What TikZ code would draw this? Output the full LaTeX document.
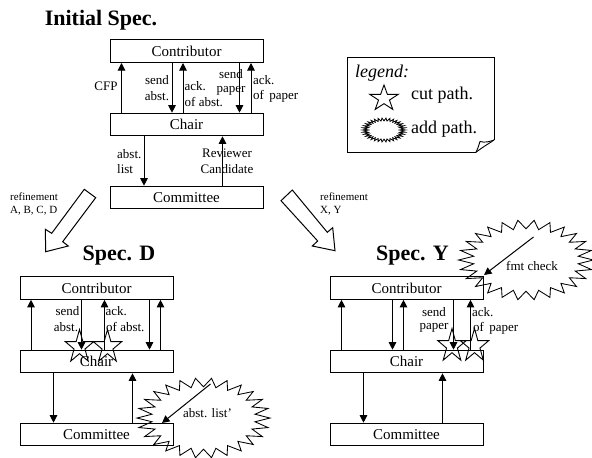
\documentclass[tikz,border=0pt]{standalone}
\usepackage{fontspec}
\setmainfont{Liberation Serif}
\usetikzlibrary{arrows.meta}
\newcommand{\spikeoval}[7][]{%
  \draw[line width=0.85pt,line join=miter,#1] ({#2+#4},#3)
    foreach \i in {1,...,\numexpr 2*#6\relax} {
      -- ({#2+cos(\i*180/#6)*#4*(1-(1-#7)*mod(\i,2))},{#3+sin(\i*180/#6)*#5*(1-(1-#7)*mod(\i,2))})
    } -- cycle;}
\tikzset{
  x=1pt,y=-1pt,
  pb/.style={draw,line width=1pt,minimum width=153pt,minimum height=22.6pt,inner sep=0pt,font=\fontsize{15}{17}\selectfont},
  arr/.style={line width=1pt,-{Triangle[width=7.5pt,length=7.5pt]}},
  lbl/.style={inner sep=0pt,font=\fontsize{13}{15}\selectfont},
  lbll/.style={lbl,anchor=west},
  small/.style={inner sep=0pt,anchor=west,font=\fontsize{11}{13}\selectfont},
  ttl/.style={inner sep=0pt,font=\fontsize{22}{24}\bfseries\selectfont},
  leg/.style={inner sep=0pt,anchor=west,font=\fontsize{18}{20}\selectfont},
  hollow/.style={draw,line width=1pt,line join=miter},
  cutstar/.pic={\draw[line width=0.9pt,line join=miter]
    (0,-1) -- (.2245,-.309) -- (.951,-.309) -- (.363,.118) -- (.588,.809) -- (0,.382)
    -- (-.588,.809) -- (-.363,.118) -- (-.951,-.309) -- (-.2245,-.309) -- cycle;}
}
\begin{document}
\begin{tikzpicture}
\useasboundingbox (0,0) rectangle (592,458);
\fill[white] (0,0) rectangle (592,458);
% titles
\node[ttl] (t0) at (101,20) {Initial Spec.};
\node[ttl] (t1) at (119,256) {Spec. D};
\node[ttl] (t2) at (412.5,256) {Spec. Y};
% initial spec
\node[pb] (c0) at (186.5,51.2) {Contributor};
\node[pb] (h0) at (186.5,124.5) {Chair};
\node[pb] (m0) at (186.5,197.5) {Committee};
\draw[arr] ([xshift=12pt]h0.north west) -- ([xshift=12pt]c0.south west);
\draw[arr] ([xshift=62.5pt]c0.south west) -- ([xshift=62.5pt]h0.north west);
\draw[arr] ([xshift=73.5pt]h0.north west) -- ([xshift=73.5pt]c0.south west);
\draw[arr] ([xshift=130pt]c0.south west) -- ([xshift=130pt]h0.north west);
\draw[arr] ([xshift=141.5pt]h0.north west) -- ([xshift=141.5pt]c0.south west);
\draw[arr] ([xshift=34.5pt]h0.south west) -- ([xshift=34.5pt]m0.north west);
\draw[arr] ([xshift=113pt]m0.north west) -- ([xshift=113pt]h0.south west);
\node[lbl] (l1) at (106,86) {CFP};
\node[lbl] (l2) at (157,80) {send};
\node[lbl] (l3) at (157,96) {abst.};
\node[lbll] (l4) at (184.5,86) {ack.};
\node[lbll] (l5) at (184.5,102) {of abst.};
\node[lbl] (l6) at (231,74.5) {send};
\node[lbl] (l7) at (231,91) {paper};
\node[lbll] (l8) at (253,80) {ack.};
\node[lbll] (l9) at (253,96) {of\, paper};
\node[lbll] (l10) at (117,154) {abst.};
\node[lbll] (l11) at (117,169) {list};
\node[lbl] (l12) at (227,153) {Reviewer};
\node[lbl] (l13) at (227,169) {Candidate};
% refinement
\node[small] (r1) at (10,197) {refinement};
\node[small] (r2) at (10,211) {A, B, C, D};
\node[small] (r3) at (320,197) {refinement};
\node[small] (r4) at (320,211) {X, Y};
\draw[hollow] (84.3,189.3) -- (95.7,197.7) -- (62.7,241.7) -- (68.3,246) -- (45.7,251.7) -- (45.3,229.3) -- (51.7,233.3) -- cycle;
\draw[hollow] (292.3,190) -- (281,200.7) -- (317.7,241) -- (312.3,246) -- (335,250.7) -- (332.7,227.7) -- (327.3,232.3) -- cycle;
% legend
\draw[line width=1pt,line join=miter] (476,152.3) -- (347.3,152.3) -- (347.3,57) -- (494,57) -- (494,140);
\draw[line width=0.9pt] (476,152.3) .. controls (484,146) and (490,143) .. (494,140);
\draw[line width=0.9pt] (476,152.3) .. controls (478,148) and (479,145) .. (480,141.5) .. controls (485,143) and (490,141.5) .. (494,140);
\node[leg,font=\fontsize{18}{20}\itshape\selectfont] (g0) at (355,73) {legend:};
\node[leg] (g1) at (411,95) {cut path.};
\node[leg] (g2) at (411,129) {add path.};
\pic[xscale=15,yscale=13.5] at (384,98.5) {cutstar};
\spikeoval[line width=0.8pt]{384}{130}{21.5}{12}{34}{.76}
% spec D
\node[pb] (c1) at (96.5,288) {Contributor};
\node[pb] (h1) at (96.5,361.5) {Chair};
\node[pb] (m1) at (96.5,434.5) {Committee};
\draw[arr] ([xshift=11.5pt]h1.north west) -- ([xshift=11.5pt]c1.south west);
\draw[arr] ([xshift=62pt]c1.south west) -- ([xshift=62pt]h1.north west);
\draw[arr] ([xshift=85pt]h1.north west) -- ([xshift=85pt]c1.south west);
\draw[arr] ([xshift=130pt]c1.south west) -- ([xshift=130pt]h1.north west);
\draw[arr] ([xshift=141pt]h1.north west) -- ([xshift=141pt]c1.south west);
\draw[arr] ([xshift=34pt]h1.south west) -- ([xshift=34pt]m1.north west);
\draw[arr] ([xshift=113pt]m1.north west) -- ([xshift=113pt]h1.south west);
\node[lbl] (d1) at (67.5,311) {send};
\node[lbl] (d2) at (66,327) {abst.};
\node[lbll] (d3) at (105.5,311) {ack.};
\node[lbll] (d4) at (106,327) {of abst.};
\pic[xscale=15,yscale=17.5] at (79.5,347) {cutstar};
\pic[xscale=15,yscale=17.5] at (107.5,347) {cutstar};
\spikeoval{203.5}{418}{66.5}{40}{26}{.78}
\coordinate (da) at (210.5,384);
\coordinate (db) at (162,423);
\draw[arr] (da) -- (db);
\node[lbl] (d5) at (207.5,413) {abst. list'};
% spec Y
\node[pb] (c2) at (406.5,288) {Contributor};
\node[pb] (h2) at (406.5,361.5) {Chair};
\node[pb] (m2) at (406.5,434.5) {Committee};
\draw[arr] ([xshift=12pt]h2.north west) -- ([xshift=12pt]c2.south west);
\draw[arr] ([xshift=63pt]c2.south west) -- ([xshift=63pt]h2.north west);
\draw[arr] ([xshift=74pt]h2.north west) -- ([xshift=74pt]c2.south west);
\draw[arr] ([xshift=124pt]c2.south west) -- ([xshift=124pt]h2.north west);
\draw[arr] ([xshift=141pt]h2.north west) -- ([xshift=141pt]c2.south west);
\draw[arr] ([xshift=34pt]h2.south west) -- ([xshift=34pt]m2.north west);
\draw[arr] ([xshift=113pt]m2.north west) -- ([xshift=113pt]h2.south west);
\node[lbl] (y1) at (434,312) {send};
\node[lbl] (y2) at (434,328) {paper};
\node[lbll] (y3) at (472,312) {ack.};
\node[lbll] (y4) at (473,328) {of\, paper};
\pic[xscale=15,yscale=17.5] at (452,346) {cutstar};
\pic[xscale=15,yscale=17.5] at (474.5,346) {cutstar};
\spikeoval{526}{260}{67.5}{40}{26}{.78}
\coordinate (ya) at (533.5,237);
\coordinate (yb) at (484,275);
\draw[arr] (ya) -- (yb);
\node[lbl] (y5) at (532,266) {fmt check};
\end{tikzpicture}
\end{document}
